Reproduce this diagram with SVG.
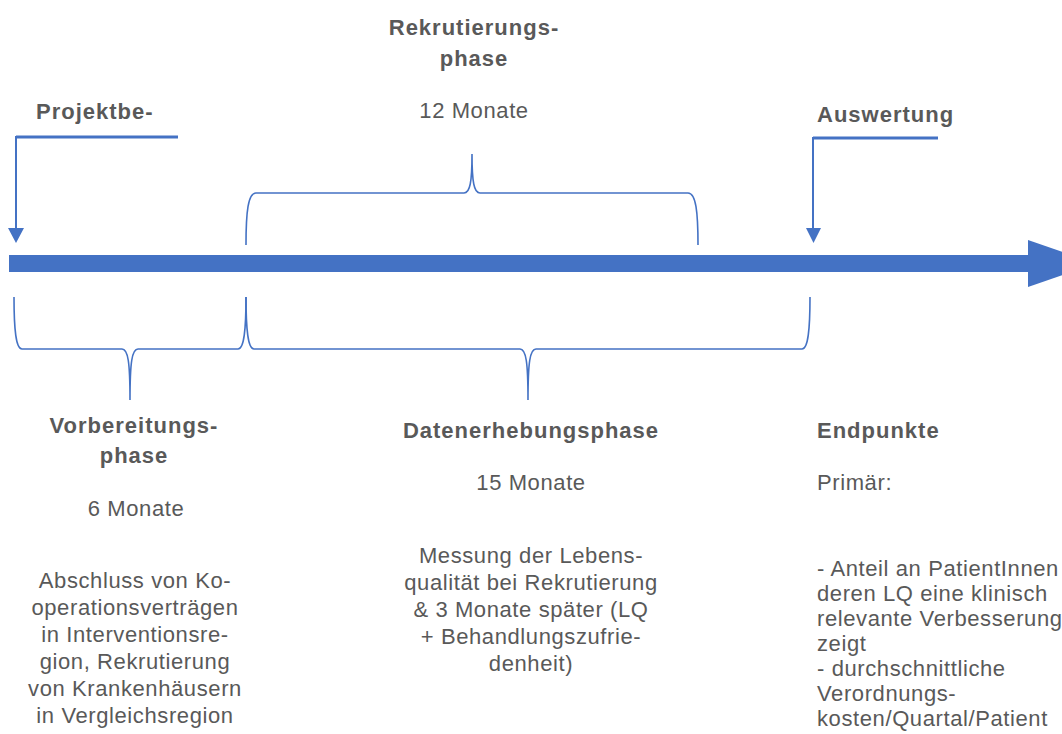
<svg xmlns="http://www.w3.org/2000/svg" width="1062" height="734" viewBox="0 0 1062 734">
<style>
.t{font-family:"Liberation Sans",Arial,sans-serif;font-size:22px;fill:#595959;letter-spacing:0.6px}
.b{font-weight:bold;letter-spacing:1px}
.c{text-anchor:middle}
.br{fill:none;stroke:#4472C4;stroke-width:1.6}
.ln{fill:none;stroke:#4472C4}
.hd{fill:#4472C4}
</style>
<rect width="1062" height="734" fill="#fff"/>
<g id="timeline">
<rect x="9" y="255" width="1020" height="17" fill="#4472C4"/>
<polygon points="1028,240 1096,263.5 1028,287" fill="#4472C4"/>
</g>
<g id="connectors">
<line class="ln" x1="16" y1="137" x2="178" y2="137" stroke-width="3"/>
<line class="ln" x1="16" y1="136" x2="16" y2="230" stroke-width="2"/>
<polygon class="hd" points="8,228 24,228 16,243"/>
<line class="ln" x1="813" y1="138" x2="938" y2="138" stroke-width="3"/>
<line class="ln" x1="813" y1="137" x2="813" y2="230" stroke-width="2"/>
<polygon class="hd" points="806,228 821,228 813.5,243"/>
<path class="br" d="M246,245 C246,212 248,193 256,193 L464,193 C470,193 472,182 472,154 C472,182 474,193 480,193 L688,193 C696,193 698,212 698,245"/>
<path class="br" d="M14,297 C14,330 16,349 22,349 L122,349 C128,349 130,362 130,400 C130,362 132,349 138,349 L238,349 C244,349 246,330 246,297"/>
<path class="br" d="M246,297 C246,330 248,349 254,349 L520,349 C526,349 528,362 528,400 C528,362 530,349 536,349 L802,349 C808,349 810,330 810,297"/>
</g>
<g id="projektbeginn">
<text class="t b" x="36" y="119">Projektbe-</text>
</g>
<g id="rekrutierung">
<text class="t b c" x="474" y="35">Rekrutierungs-</text>
<text class="t b c" x="474" y="66">phase</text>
<text class="t c" x="474" y="118">12 Monate</text>
</g>
<g id="auswertung">
<text class="t b" x="817" y="122">Auswertung</text>
</g>
<g id="vorbereitung">
<text class="t b c" x="134" y="433">Vorbereitungs-</text>
<text class="t b c" x="134" y="463">phase</text>
<text class="t c" x="136" y="516">6 Monate</text>
<text class="t c" x="135" y="588">Abschluss von Ko-</text>
<text class="t c" x="135" y="615">operationsverträgen</text>
<text class="t c" x="135" y="642">in Interventionsre-</text>
<text class="t c" x="135" y="669">gion, Rekrutierung</text>
<text class="t c" x="135" y="696">von Krankenhäusern</text>
<text class="t c" x="135" y="723">in Vergleichsregion</text>
</g>
<g id="datenerhebung">
<text class="t b c" x="531" y="438">Datenerhebungsphase</text>
<text class="t c" x="531" y="490">15 Monate</text>
<text class="t c" x="531" y="563">Messung der Lebens-</text>
<text class="t c" x="531" y="590">qualität bei Rekrutierung</text>
<text class="t c" x="531" y="617">&amp; 3 Monate später (LQ</text>
<text class="t c" x="531" y="644">+ Behandlungszufrie-</text>
<text class="t c" x="531" y="671">denheit)</text>
</g>
<g id="endpunkte">
<text class="t b" x="817" y="438">Endpunkte</text>
<text class="t" x="817" y="490">Primär:</text>
<text class="t" x="817" y="576">- Anteil an PatientInnen</text>
<text class="t" x="817" y="601">deren LQ eine klinisch</text>
<text class="t" x="817" y="626">relevante Verbesserung</text>
<text class="t" x="817" y="651">zeigt</text>
<text class="t" x="817" y="676">- durchschnittliche</text>
<text class="t" x="817" y="701">Verordnungs-</text>
<text class="t" x="817" y="726">kosten/Quartal/Patient</text>
</g>
</svg>
